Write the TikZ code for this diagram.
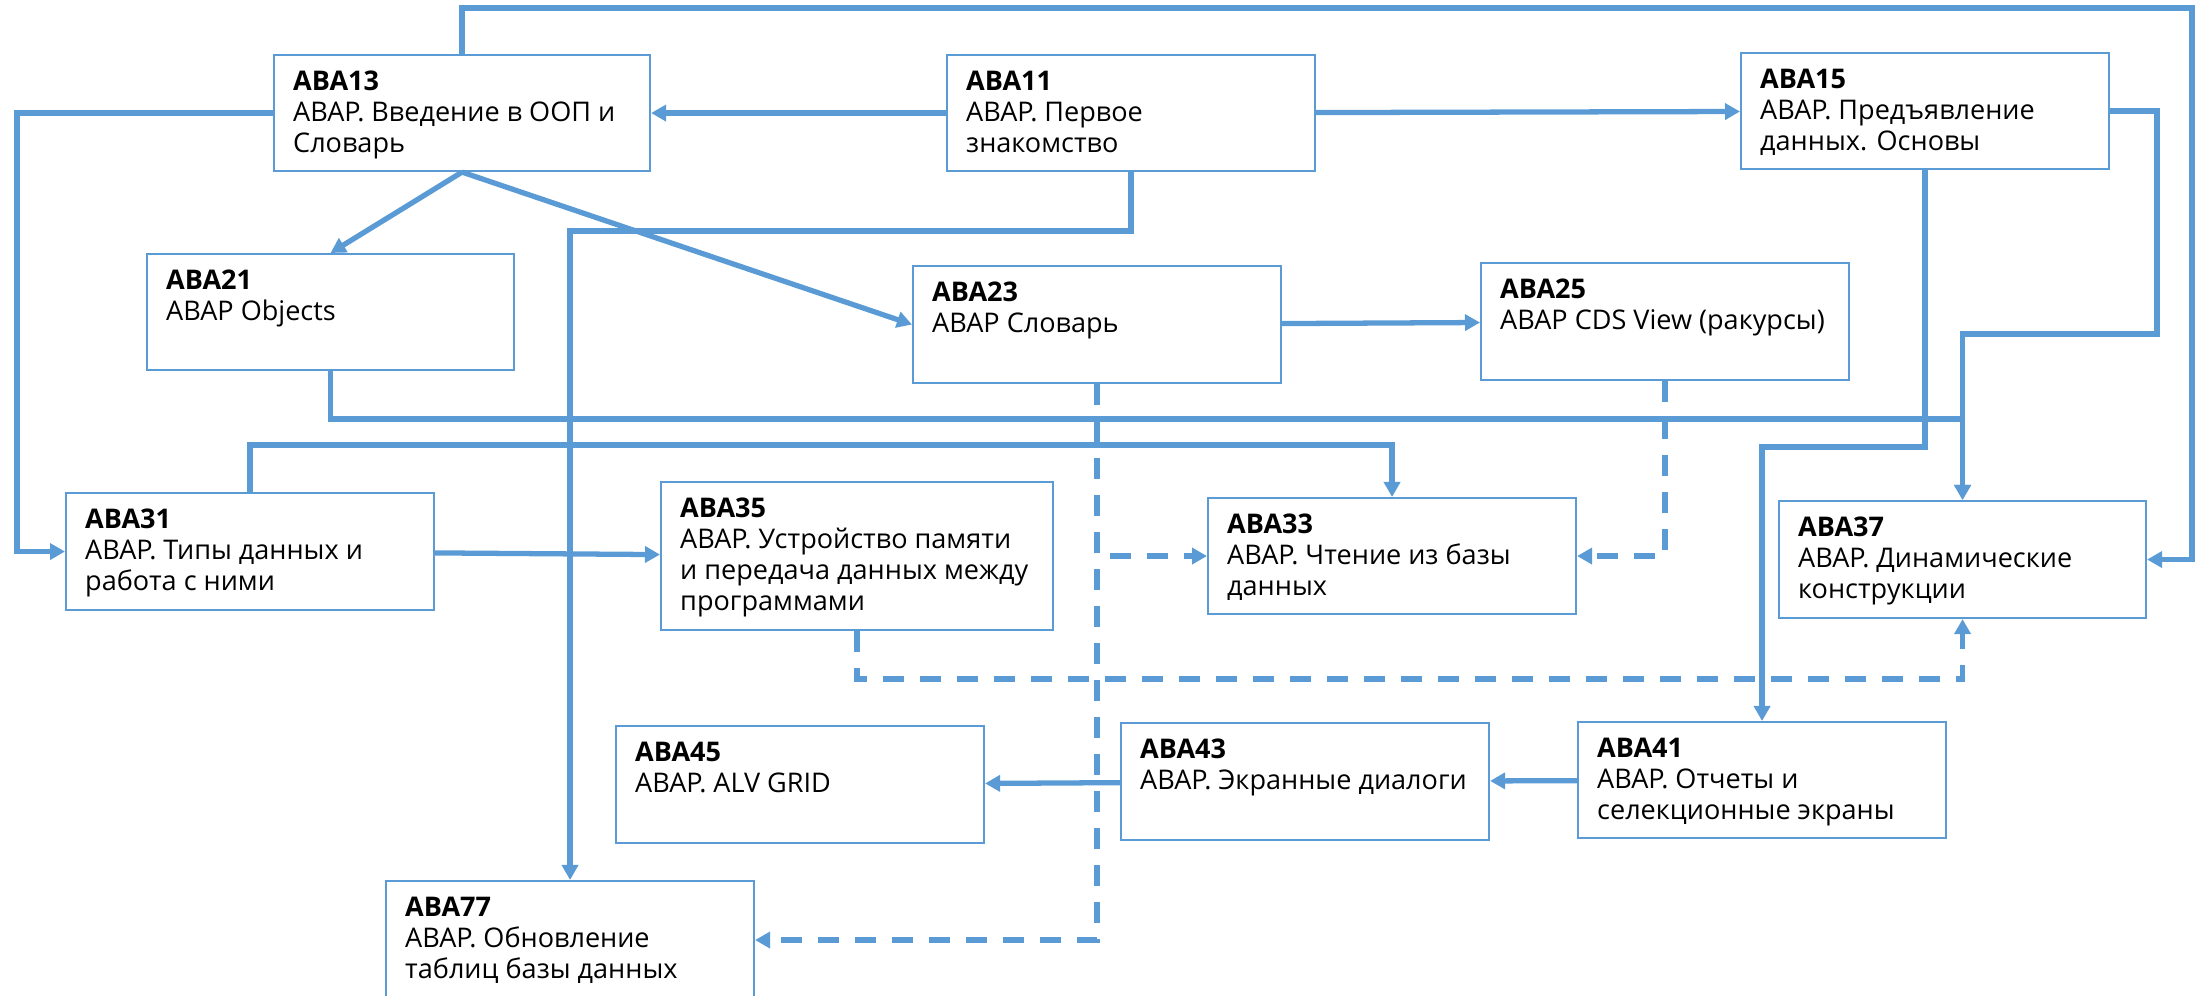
\documentclass[tikz,border=0pt]{standalone}
\usepackage{fontspec}
\setmainfont{Open Sans}
\usetikzlibrary{arrows.meta}
\definecolor{abablue}{HTML}{5B9BD5}
\begin{document}
\begin{tikzpicture}[x=0.1mm,y=-0.1mm,line join=miter,
  course/.style 2 args={draw=abablue,line width=0.6pt,anchor=north west,inner sep=0pt,
    minimum width=#1*0.1mm,minimum height=#2*0.1mm},
  ctext/.style={anchor=north west,align=left,inner xsep=1.95mm,inner ysep=1.65mm,
    font=\fontsize{7.7pt}{8.8pt}\selectfont},
  link/.style={abablue,line width=1.5pt,-{Triangle[length=1.5mm,width=1.6mm]}},
  dlink/.style={link,dash pattern=on 2.1mm off 1.6mm}]
  \useasboundingbox (0,0) rectangle (2208,996);
  \node[course={376}{116},label={[ctext,name=aba13t]north west:{\textbf{ABA13}\\ABAP. Введение в ООП и\\Словарь}}] (aba13) at (273,54) {};
  \node[course={368}{116},label={[ctext,name=aba11t]north west:{\textbf{ABA11}\\ABAP. Первое\\знакомство}}] (aba11) at (946,54) {};
  \node[course={368}{116},label={[ctext,name=aba15t]north west:{\textbf{ABA15}\\ABAP. Предъявление\\данных. Основы}}] (aba15) at (1740,52) {};
  \node[course={367}{116},label={[ctext,name=aba21t]north west:{\textbf{ABA21}\\ABAP Objects}}] (aba21) at (146,253) {};
  \node[course={368}{117},label={[ctext,name=aba23t]north west:{\textbf{ABA23}\\ABAP Словарь}}] (aba23) at (912,265) {};
  \node[course={368}{117},label={[ctext,name=aba25t]north west:{\textbf{ABA25}\\ABAP CDS View (ракурсы)}}] (aba25) at (1480,262) {};
  \node[course={368}{117},label={[ctext,name=aba31t]north west:{\textbf{ABA31}\\ABAP. Типы данных и\\работа с ними}}] (aba31) at (65,492) {};
  \node[course={392}{148},label={[ctext,name=aba35t]north west:{\textbf{ABA35}\\ABAP. Устройство памяти\\и передача данных между\\программами}}] (aba35) at (660,481) {};
  \node[course={368}{116},label={[ctext,name=aba33t]north west:{\textbf{ABA33}\\ABAP. Чтение из базы\\данных}}] (aba33) at (1207,497) {};
  \node[course={367}{117},label={[ctext,name=aba37t]north west:{\textbf{ABA37}\\ABAP. Динамические\\конструкции}}] (aba37) at (1778,500) {};
  \node[course={368}{117},label={[ctext,name=aba45t]north west:{\textbf{ABA45}\\ABAP. ALV GRID}}] (aba45) at (615,725) {};
  \node[course={368}{117},label={[ctext,name=aba43t]north west:{\textbf{ABA43}\\ABAP. Экранные диалоги}}] (aba43) at (1120,722) {};
  \node[course={368}{116},label={[ctext,name=aba41t]north west:{\textbf{ABA41}\\ABAP. Отчеты и\\селекционные экраны}}] (aba41) at (1577,721) {};
  \node[course={368}{118},label={[ctext,name=aba77t]north west:{\textbf{ABA77}\\ABAP. Обновление\\таблиц базы данных}}] (aba77) at (385,880) {};
  \coordinate (toprail) at (2192,8);
  \draw[link] (aba11) -- (aba13);
  \draw[link] (aba11) -- (aba15);
  \draw[link] (aba13.south) -- (aba21.north);
  \draw[link] (aba13.south) -- (aba23.west);
  \draw[link] (aba23) -- (aba25);
  \draw[link] (aba13.west) -- ++(-256,0) |- (aba31.west);
  \draw[link] (aba13.north) |- (toprail) |- (aba37.east);
  \draw[link] (aba11.south) -- ++(0,59) -| (aba77.north);
  \draw[link] (aba21.south) -- ++(0,48) -| (aba37.north);
  \draw[link] (aba15.east) -- ++(47,0) -- ++(0,223) -| (aba37.north);
  \draw[link] (aba15.south) -- ++(0,277) -| (aba41.north);
  \draw[link] (aba31.north) -- ++(0,-47) -| (aba33.north);
  \draw[link] (aba31) -- (aba35);
  \draw[link] (aba41) -- (aba43);
  \draw[link] (aba43) -- (aba45);
  \draw[dlink] (aba23.south) |- (aba77.east);
  \draw[dlink] (aba23.south) |- (aba33.west);
  \draw[dlink] (aba25.south) |- (aba33.east);
  \draw[dlink] (aba35.south) -- ++(0,48) -| (aba37.south);
\end{tikzpicture}
\end{document}
